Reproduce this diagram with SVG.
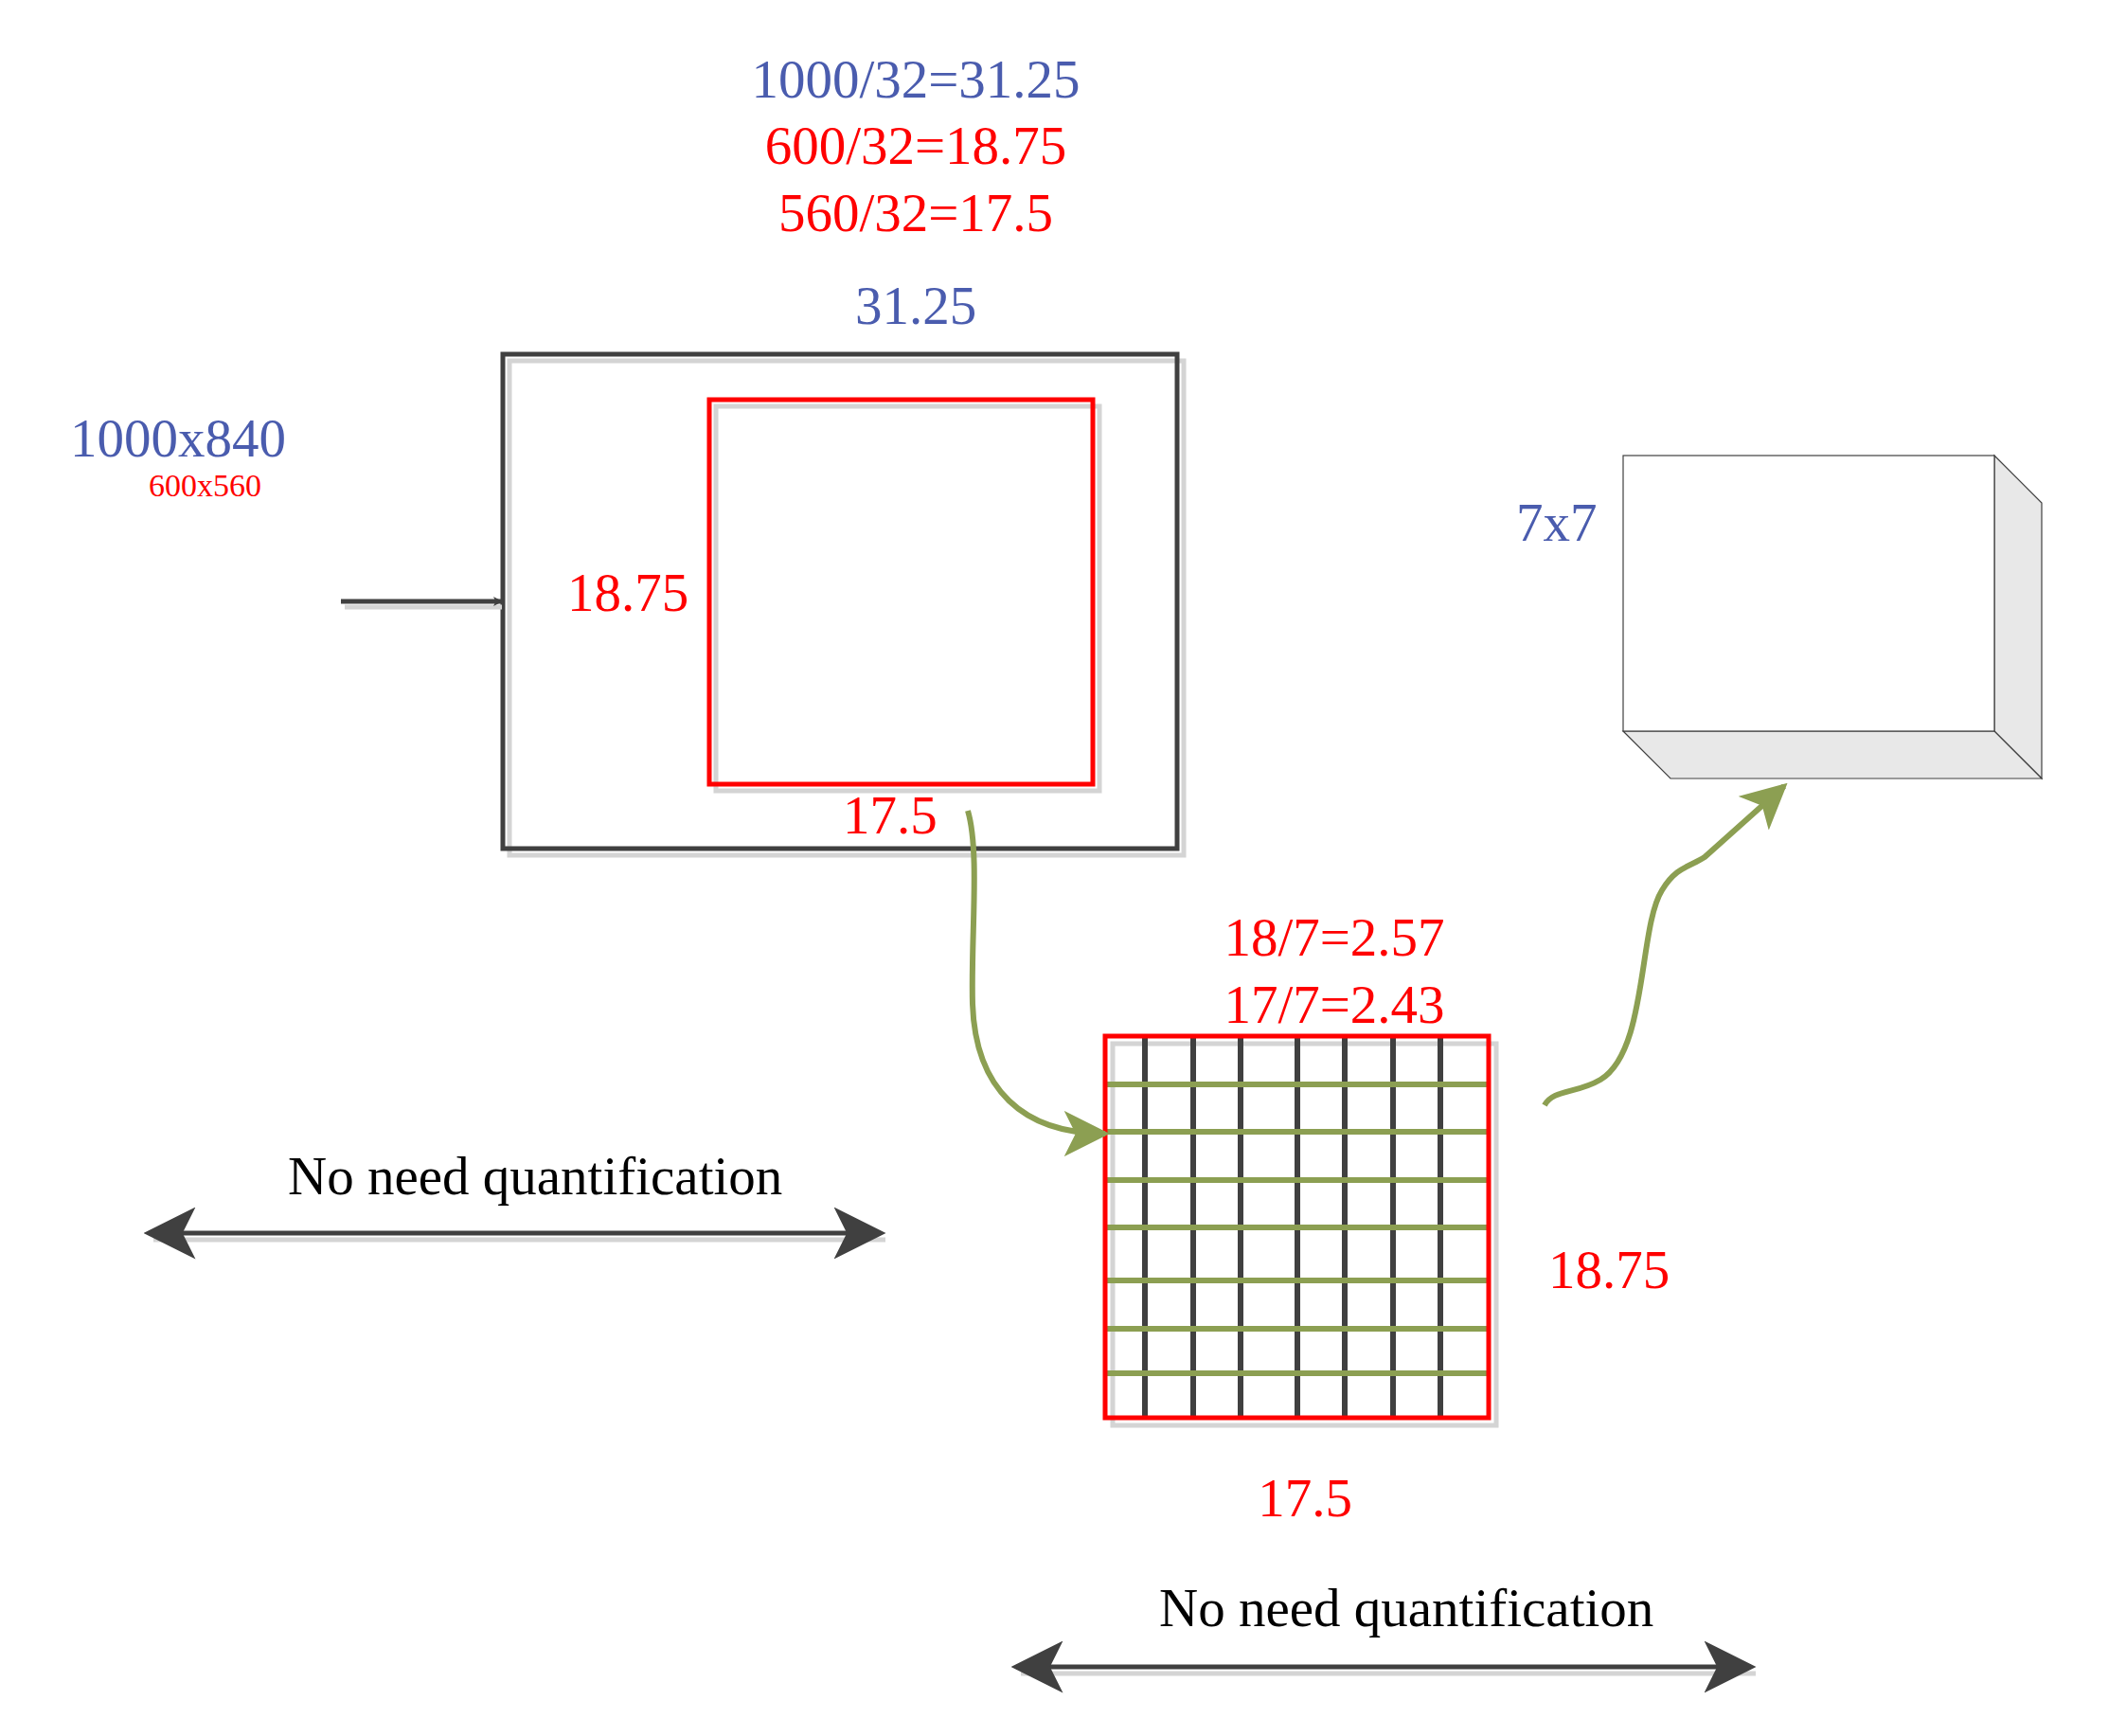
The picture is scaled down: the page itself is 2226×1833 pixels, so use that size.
<svg xmlns="http://www.w3.org/2000/svg" width="2226" height="1833" viewBox="0 0 2226 1833">
<style>
text{font-family:"Liberation Serif","Times New Roman",serif;font-size:57px}
.b{fill:#4a5cae}.r{fill:#ff0000}.k{fill:#000}
.sh{stroke:#d4d4d4;fill:none}
.dk{stroke:#404040;fill:none}
.gl{stroke:#8c9f52;stroke-width:6;fill:none}
.vl{stroke:#404040;stroke-width:6}
</style>
<defs>
<marker id="ah" viewBox="0 0 20 20" refX="18" refY="10" markerWidth="10" markerHeight="10" markerUnits="userSpaceOnUse" orient="auto-start-reverse">
<path d="M0,0 L20,10 L0,20 L5,10 Z" fill="#404040"/>
</marker>
<marker id="ahd" viewBox="0 0 20 20" refX="18" refY="10" markerWidth="11" markerHeight="11" orient="auto-start-reverse">
<path d="M0,0 L20,10 L0,20 L5,10 Z" fill="#404040"/>
</marker>
<marker id="ag" viewBox="0 0 20 20" refX="18" refY="10" markerWidth="8" markerHeight="8" orient="auto">
<path d="M0,0 L20,10 L0,20 L5,10 Z" fill="#8c9f52"/>
</marker>
</defs>
<g id="labels-top">
<text class="b" x="967" y="103" text-anchor="middle">1000/32=31.25</text>
<text class="r" x="967" y="173" text-anchor="middle">600/32=18.75</text>
<text class="r" x="967" y="244" text-anchor="middle">560/32=17.5</text>
<text class="b" x="967" y="342" text-anchor="middle">31.25</text>
<text class="b" x="74" y="482">1000x840</text>
<text class="r" x="157" y="524" style="font-size:34px">600x560</text>
</g>
<g id="feature-map">
<rect class="sh" x="538" y="381" width="712" height="522" stroke-width="5"/>
<rect class="dk" x="531" y="374" width="712" height="522" stroke-width="5"/>
</g>
<g id="roi">
<rect class="sh" x="756" y="429" width="405" height="406" stroke-width="5"/>
<rect x="749" y="422" width="405" height="406" fill="none" stroke="#ff0000" stroke-width="5"/>
<text class="r" x="599" y="645">18.75</text>
<text class="r" x="890" y="880">17.5</text>
</g>
<g id="output-box">
<path d="M2106,481 L2156,531 L2156,822 L2106,772 Z" fill="#e8e8e8" stroke="#404040" stroke-width="1.2"/>
<path d="M1714,772 L2106,772 L2156,822 L1764,822 Z" fill="#e8e8e8" stroke="#404040" stroke-width="1.2"/>
<rect x="1714" y="481" width="392" height="291" fill="#fff" stroke="#404040" stroke-width="1.2"/>
<text class="b" x="1601" y="571">7x7</text>
</g>
<g id="grid">
<rect class="sh" x="1175" y="1102" width="405" height="403" stroke-width="5"/>
<g stroke="#404040" stroke-width="6">
<line x1="1209" y1="1094" x2="1209" y2="1497"/><line x1="1260" y1="1094" x2="1260" y2="1497"/>
<line x1="1310" y1="1094" x2="1310" y2="1497"/><line x1="1370" y1="1094" x2="1370" y2="1497"/>
<line x1="1420" y1="1094" x2="1420" y2="1497"/><line x1="1471" y1="1094" x2="1471" y2="1497"/>
<line x1="1521" y1="1094" x2="1521" y2="1497"/>
</g>
<g class="gl" stroke-width="5">
<line x1="1167" y1="1145" x2="1574" y2="1145"/><line x1="1167" y1="1195" x2="1574" y2="1195"/>
<line x1="1167" y1="1246" x2="1574" y2="1246"/><line x1="1167" y1="1296" x2="1574" y2="1296"/>
<line x1="1167" y1="1352" x2="1574" y2="1352"/><line x1="1167" y1="1403" x2="1574" y2="1403"/>
<line x1="1167" y1="1450" x2="1574" y2="1450"/>
</g>
<rect x="1167" y="1094" width="405" height="403" fill="none" stroke="#ff0000" stroke-width="5"/>
<text class="r" x="1409" y="1009" text-anchor="middle">18/7=2.57</text>
<text class="r" x="1409" y="1080" text-anchor="middle">17/7=2.43</text>
<text class="r" x="1635" y="1360">18.75</text>
<text class="r" x="1378" y="1601" text-anchor="middle">17.5</text>
</g>
<g id="notes">
<text class="k" x="304" y="1261">No need quantification</text>
<text class="k" x="1224" y="1717">No need quantification</text>
</g>
<g id="connectors">
<line x1="364" y1="641" x2="530" y2="641" class="sh" stroke-width="5"/>
<line x1="360" y1="635" x2="530" y2="635" stroke="#404040" stroke-width="5" marker-end="url(#ah)"/>
<path d="M1022,856 C1035,900 1025,990 1027,1060 C1030,1150 1080,1197 1167,1197" class="gl" marker-end="url(#ag)"/>
<path d="M1631,1167 C1640,1150 1665,1155 1690,1140 C1740,1110 1730,980 1755,940 C1770,915 1785,915 1800,905 L1884,830" class="gl" marker-end="url(#ag)"/>
<line x1="162" y1="1309" x2="935" y2="1309" class="sh" stroke-width="5"/>
<line x1="157" y1="1302" x2="930" y2="1302" stroke="#404040" stroke-width="5" marker-start="url(#ahd)" marker-end="url(#ahd)"/>
<line x1="1078" y1="1767" x2="1854" y2="1767" class="sh" stroke-width="5"/>
<line x1="1073" y1="1760" x2="1849" y2="1760" stroke="#404040" stroke-width="5" marker-start="url(#ahd)" marker-end="url(#ahd)"/>
</g>
</svg>
